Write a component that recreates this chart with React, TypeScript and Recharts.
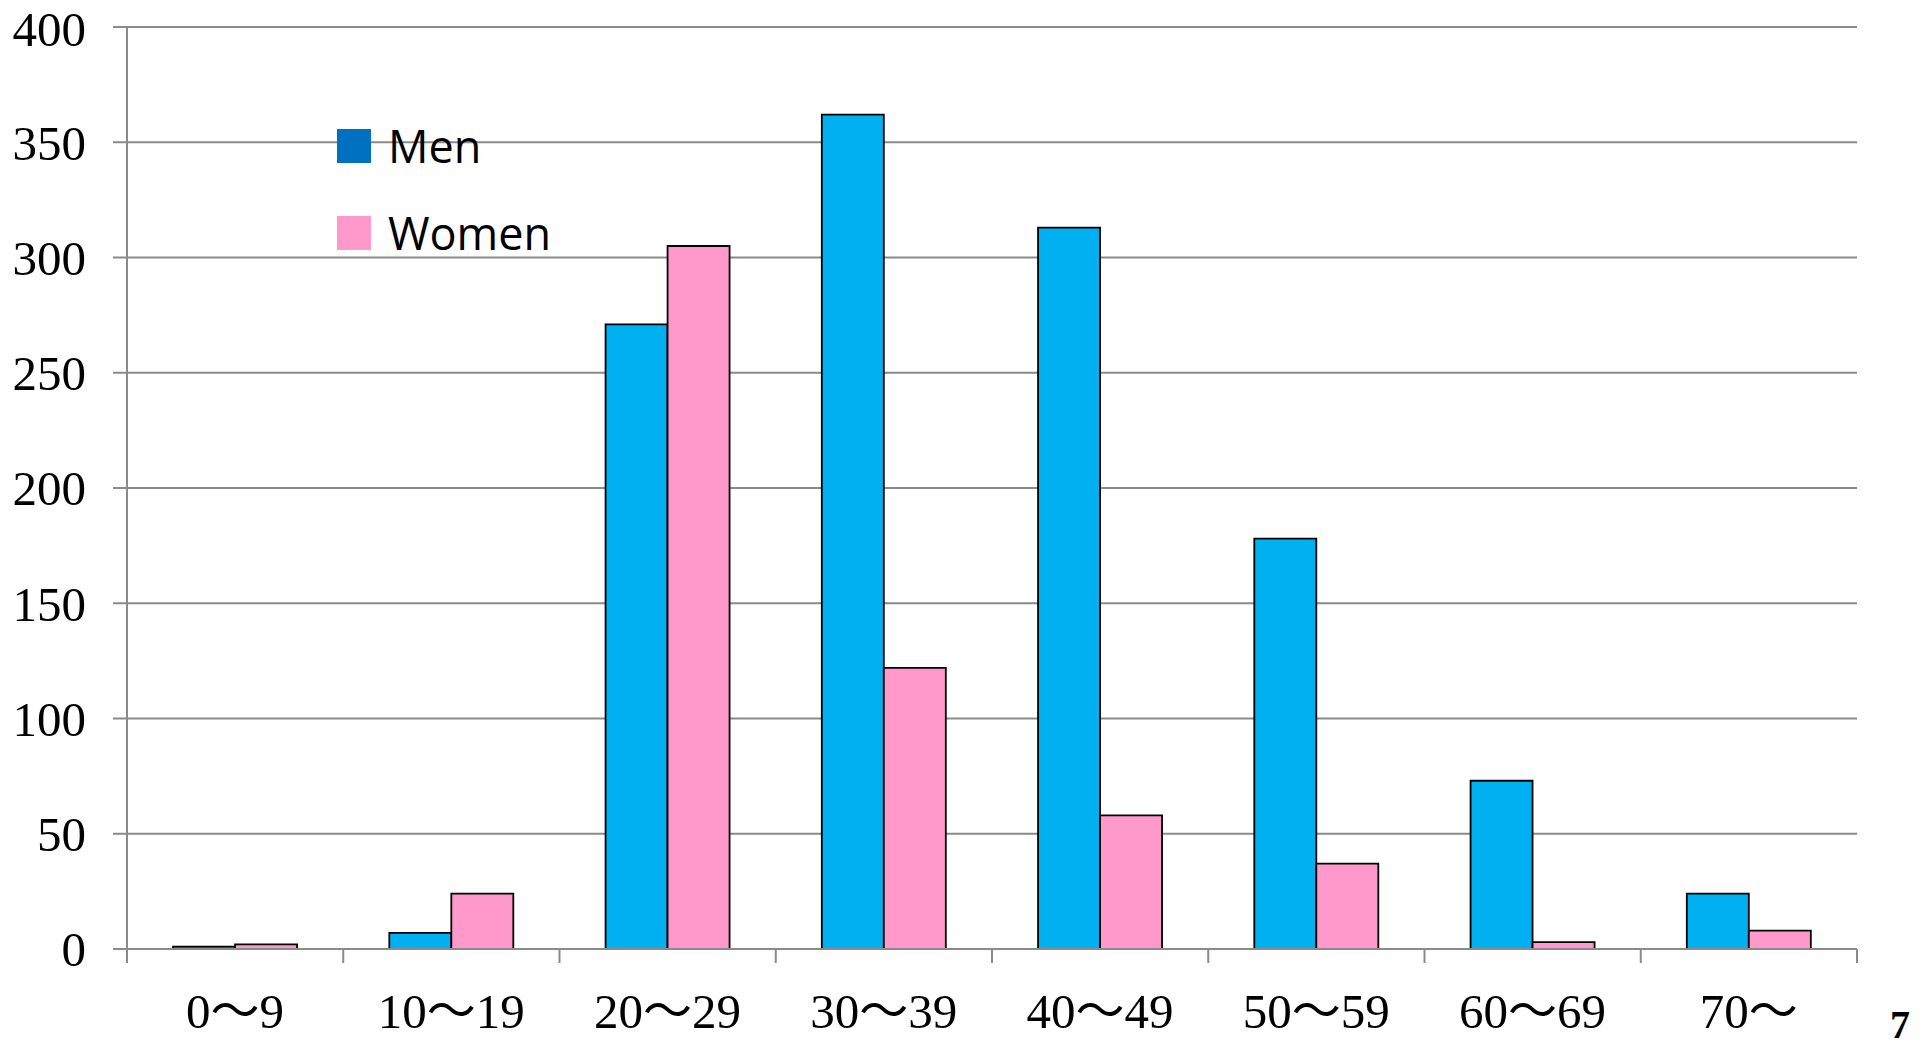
import { BarChart, Bar, XAxis, YAxis, CartesianGrid, Legend } from 'recharts';

const ageGroups = ['0〜9', '10〜19', '20〜29', '30〜39', '40〜49', '50〜59', '60〜69', '70〜'];
const menCounts = [1, 7, 271, 362, 313, 178, 73, 24];
const womenCounts = [2, 24, 305, 122, 58, 37, 3, 8];
const yTicks = [0, 50, 100, 150, 200, 250, 300, 350, 400];

const seriesNames = ['Men', 'Women'];
const legendColors = ['#0070C0', '#FF99CC'];

const data = ageGroups.map((age, i) => ({
  age,
  men: menCounts[i],
  women: womenCounts[i],
}));

const serif = '"Liberation Serif", "Times New Roman", "Noto Sans CJK JP", serif';
const axisGray = '#8a8a8a';

// plot spans 127..1857, 8 categories
const halfBand = (1923 - 127 - 66) / ageGroups.length / 2;
const labelGap = 44;

function AgeTick(props: any) {
  const { x, y, payload, index } = props;
  const axisY = y - labelGap;
  const isLast = index === ageGroups.length - 1;
  return (
    <g>
      <line x1={x - halfBand} x2={x - halfBand} y1={axisY} y2={axisY + 14} stroke={axisGray} strokeWidth={2} />
      {isLast && (
        <line x1={x + halfBand} x2={x + halfBand} y1={axisY} y2={axisY + 14} stroke={axisGray} strokeWidth={2} />
      )}
      <text x={x} y={y} dy="0.71em" textAnchor="middle" fill="#000" fontSize={49} fontFamily={serif}>
        {payload.value}
      </text>
    </g>
  );
}

function ChartLegend() {
  return (
    <div style={{ fontFamily: '"Open Sans", "Noto Sans", sans-serif', fontSize: 45, color: '#000' }}>
      {seriesNames.map((name, i) => (
        <div
          key={name}
          style={{ display: 'flex', alignItems: 'center', height: 45, lineHeight: '45px', marginBottom: 42 }}
        >
          <div style={{ width: 34, height: 34, background: legendColors[i], marginRight: 17 }} />
          <span>{name}</span>
        </div>
      ))}
    </div>
  );
}

export default function App() {
  return (
    <div
      style={{
        position: 'absolute',
        left: 0,
        top: 0,
        width: 1923,
        height: 1048,
        overflow: 'hidden',
        background: '#fff',
      }}
    >
      <BarChart
        width={1923}
        height={1048}
        data={data}
        margin={{ top: 27, right: 66, bottom: 0, left: 0 }}
        barCategoryGap="21.3%"
        barGap={0}
      >
        <CartesianGrid vertical={false} stroke={axisGray} strokeWidth={2} />
        <XAxis
          dataKey="age"
          height={99}
          tickLine={false}
          tickSize={0}
          tickMargin={labelGap}
          interval={0}
          axisLine={{ stroke: axisGray, strokeWidth: 2 }}
          tick={<AgeTick />}
        />
        <YAxis
          domain={[0, 400]}
          ticks={yTicks}
          width={127}
          tickSize={14}
          tickMargin={27}
          axisLine={{ stroke: axisGray, strokeWidth: 2 }}
          tickLine={{ stroke: axisGray, strokeWidth: 2 }}
          tick={{ fill: '#000', fontSize: 49, fontFamily: serif }}
        />
        <Legend
          content={() => <ChartLegend />}
          layout="vertical"
          align="center"
          verticalAlign="middle"
          wrapperStyle={{ left: 337, top: 123, width: 300 }}
        />
        <Bar dataKey="men" name="Men" fill="#00B0F0" stroke="#000" strokeWidth={1.8} isAnimationActive={false} />
        <Bar dataKey="women" name="Women" fill="#FF99CC" stroke="#000" strokeWidth={1.8} isAnimationActive={false} />
      </BarChart>
      <div
        style={{
          position: 'absolute',
          left: 1890,
          top: 1005,
          fontFamily: serif,
          fontWeight: 'bold',
          fontSize: 40,
          lineHeight: '40px',
        }}
      >
        7
      </div>
    </div>
  );
}
